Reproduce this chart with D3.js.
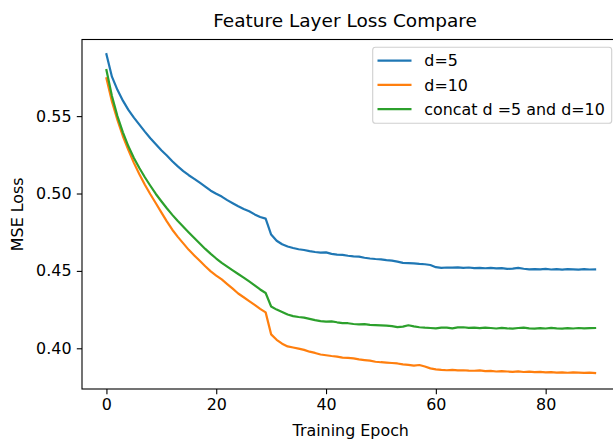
<!DOCTYPE html>
<html><head><meta charset="utf-8">
<script src="https://cdn.jsdelivr.net/npm/d3@7"></script>
<style>
html,body{margin:0;padding:0;background:#fff;}
svg{display:block;font-family:"DejaVu Sans",sans-serif;}
</style></head>
<body>
<svg id="chart" width="613" height="439"></svg>
<script>
const title = "Feature Layer Loss Compare";
const xLabel = "Training Epoch";
const yLabel = "MSE Loss";
const seriesNames = ["d=5", "d=10", "concat d =5 and d=10"];
const seriesColors = ["#1f77b4", "#ff7f0e", "#2ca02c"];
const xTicks = [0, 20, 40, 60, 80];
const yTicks = [0.40, 0.45, 0.50, 0.55];

const lossD5 = [
0.590,0.5755,0.567,0.560,0.554,0.549,0.5445,0.540,0.5357,0.5318,
0.528,0.5245,0.5208,0.5175,0.5145,0.5118,0.5095,0.507,0.5045,0.5018,
0.4998,0.498,0.4957,0.4937,0.4918,0.490,0.4885,0.4865,0.4848,0.4838,
0.4735,0.4695,0.4672,0.4658,0.4648,0.464,0.4635,0.4628,0.4622,0.4618,
0.462,0.461,0.4605,0.4603,0.4598,0.4594,0.4592,0.4585,0.458,0.4577,
0.4575,0.457,0.4566,0.456,0.4552,0.455,0.4548,0.4545,0.4543,0.4538,
0.4524,0.452,0.4522,0.4521,0.4523,0.452,0.4522,0.4518,0.452,0.4517,
0.4519,0.4516,0.4518,0.4513,0.4515,0.4519,0.4514,0.451,0.4512,0.451,
0.4513,0.4509,0.4511,0.4508,0.4511,0.451,0.4508,0.4511,0.4509,0.451];

const lossD10 = [
0.5744,0.5595,0.5475,0.537,0.528,0.5198,0.5125,0.5057,0.4995,0.4937,
0.4878,0.482,0.4766,0.472,0.4678,0.4636,0.460,0.4565,0.453,0.4497,
0.447,0.4445,0.4415,0.4385,0.4354,0.433,0.4305,0.428,0.4255,0.4232,
0.409,0.4055,0.403,0.4012,0.4005,0.3998,0.399,0.3978,0.397,0.396,
0.3955,0.395,0.3946,0.394,0.3938,0.3935,0.3928,0.3924,0.392,0.3913,
0.391,0.3908,0.3905,0.3902,0.3896,0.3893,0.3888,0.3892,0.3882,0.387,
0.3864,0.386,0.3858,0.386,0.3857,0.3858,0.3856,0.3855,0.3857,0.3852,
0.3854,0.385,0.3853,0.385,0.3848,0.3851,0.3847,0.3849,0.3846,0.3848,
0.3845,0.3846,0.3843,0.3845,0.3842,0.3845,0.3843,0.3841,0.3843,0.384];

const lossConcat = [
0.5798,0.563,0.550,0.5395,0.5305,0.523,0.5165,0.5105,0.505,0.4997,
0.495,0.4905,0.4862,0.4822,0.4785,0.4748,0.4712,0.4677,0.4642,0.461,
0.458,0.4552,0.4527,0.4503,0.448,0.4457,0.4432,0.4407,0.438,0.4357,
0.427,0.425,0.4235,0.4218,0.4208,0.4202,0.4198,0.419,0.4182,0.4176,
0.4172,0.4174,0.4168,0.4163,0.4162,0.4157,0.4155,0.4156,0.4151,0.415,
0.4148,0.4146,0.4143,0.4137,0.414,0.4149,0.4142,0.4136,0.4133,0.4131,
0.4129,0.4134,0.4133,0.4129,0.4135,0.4136,0.4132,0.4134,0.413,0.4133,
0.4131,0.4128,0.4132,0.4129,0.4127,0.4131,0.4133,0.4129,0.4127,0.413,
0.4128,0.4132,0.4129,0.4127,0.413,0.4128,0.4131,0.4129,0.413,0.4131];

const allSeries = [lossD5, lossD10, lossConcat];

const svg = d3.select("#chart");
const L = 82, R = 619.5, T = 39.5, B = 389;
const x = d3.scaleLinear().domain([-4.45, 93.45]).range([L, R]);
const y = d3.scaleLinear().domain([0.3737, 0.5995]).range([B, T]);

const fs = 15.9;

// lines
const line = d3.line().x((d, i) => x(i)).y(d => y(d));
allSeries.forEach((s, k) => {
  svg.append("path").datum(s)
    .attr("d", line)
    .attr("fill", "none")
    .attr("stroke", seriesColors[k])
    .attr("stroke-width", 2.2)
    .attr("stroke-linejoin", "round")
    .attr("stroke-linecap", "square");
});

// axes
const xAxis = d3.axisBottom(x).tickValues(xTicks).tickFormat(d3.format("d")).tickSizeOuter(0).tickSize(5.2).tickPadding(5);
const yAxis = d3.axisLeft(y).tickValues(yTicks).tickFormat(d3.format(".2f")).tickSizeOuter(0).tickSize(5.2).tickPadding(5.3);
const gx = svg.append("g").attr("transform", `translate(0,${B})`).call(xAxis);
const gy = svg.append("g").attr("transform", `translate(${L},0)`).call(yAxis);
[gx, gy].forEach(g => {
  g.select(".domain").remove();
  g.selectAll(".tick line").attr("stroke", "#000").attr("stroke-width", 1.1);
  g.selectAll(".tick text").attr("fill", "#000").style("font-size", fs + "px").style("font-family", "DejaVu Sans");
});

// spines
svg.append("rect").attr("x", L).attr("y", T).attr("width", R - L).attr("height", B - T)
  .attr("fill", "none").attr("stroke", "#000").attr("stroke-width", 1.1);

// title & labels
svg.append("text").attr("x", 345).attr("y", 27).attr("text-anchor", "middle")
  .style("font-size", "18.5px").attr("fill", "#000").text(title);
svg.append("text").attr("x", (L + R) / 2).attr("y", 436).attr("text-anchor", "middle")
  .style("font-size", fs + "px").attr("fill", "#000").text(xLabel);
svg.append("text").attr("transform", `translate(23,${(T + B) / 2}) rotate(-90)`).attr("text-anchor", "middle")
  .style("font-size", fs + "px").attr("fill", "#000").text(yLabel);

// legend
const lg = svg.append("g");
lg.append("rect").attr("x", 372.7).attr("y", 47.3).attr("width", 239).attr("height", 76)
  .attr("rx", 2.8).attr("fill", "#fff").attr("fill-opacity", 0.8).attr("stroke", "#d0d0d0").attr("stroke-width", 1.1);
seriesNames.forEach((n, k) => {
  const yy = 60.7 + k * 24.2;
  lg.append("line").attr("x1", 377.5).attr("x2", 411.5).attr("y1", yy).attr("y2", yy)
    .attr("stroke", seriesColors[k]).attr("stroke-width", 2.2);
  lg.append("text").attr("x", 424.3).attr("y", yy + 5.7).style("font-size", fs + "px")
    .attr("fill", "#000").text(n);
});
</script>
</body></html>
